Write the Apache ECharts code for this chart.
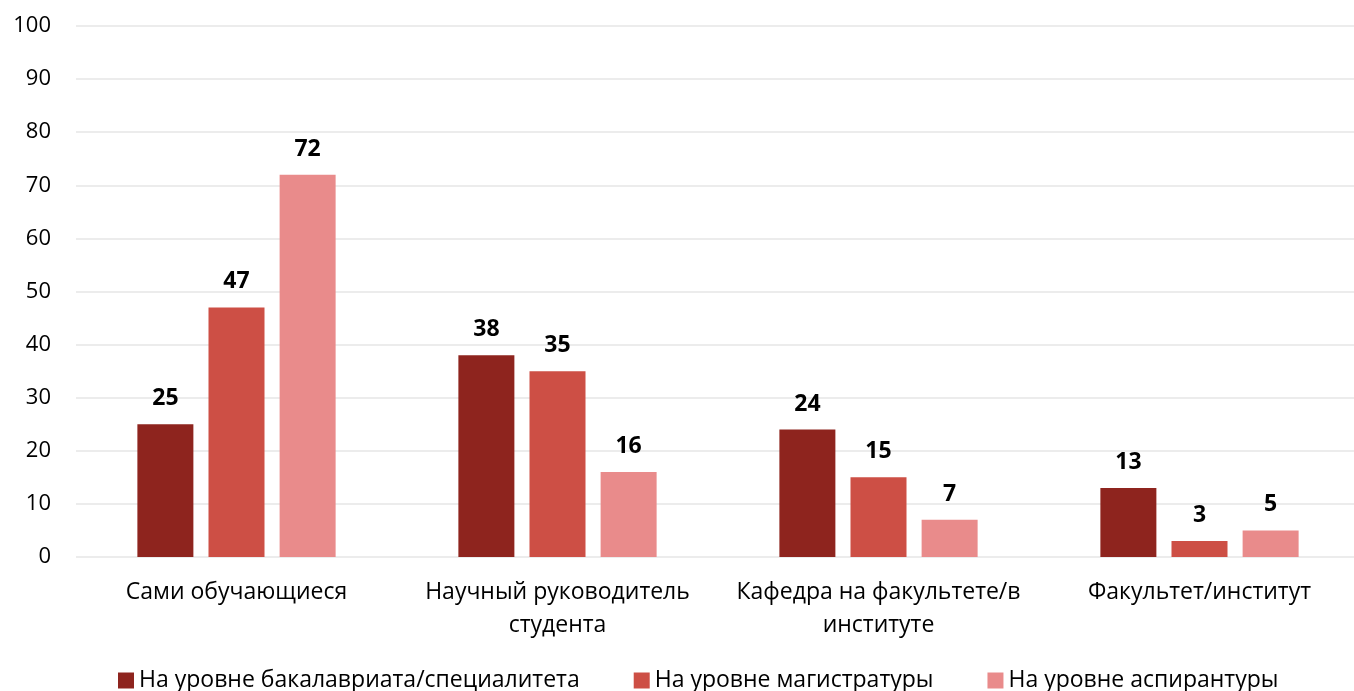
<!DOCTYPE html>
<html>
<head>
<meta charset="utf-8">
<script src="https://cdn.jsdelivr.net/npm/echarts@6/dist/echarts.min.js"></script>
<style>
  html, body { margin: 0; padding: 0; background: #fff; }
  #chart { width: 1354px; height: 691px; }
</style>
</head>
<body>
<div id="chart"></div>
<script>
// данные
var categories = ['Сами обучающиеся', 'Научный руководитель\nстудента', 'Кафедра на факультете/в\nинституте', 'Факультет/институт'];
var seriesNames = ['На уровне бакалавриата/специалитета', 'На уровне магистратуры', 'На уровне аспирантуры'];
var bachelor = [25, 38, 24, 13];
var master = [47, 35, 15, 3];
var postgrad = [72, 16, 7, 5];
var colors = ['#8E241E', '#CD4F45', '#E98B8B'];

var font = '"Open Sans", "Liberation Sans", sans-serif';

function makeSeries(name, data, color) {
  return {
    name: name,
    type: 'bar',
    data: data,
    barWidth: 56,
    barGap: '27%',
    itemStyle: { color: color },
    label: {
      show: true,
      position: 'top',
      distance: 14,
      fontFamily: font,
      fontSize: 23,
      fontWeight: 'bold',
      color: '#000'
    }
  }
}

var chart = echarts.init(document.getElementById('chart'))
chart.setOption({
  animation: false,
  textStyle: { fontFamily: font },
  grid: { left: 76, width: 1284, top: 26, height: 531, containLabel: false, outerBoundsMode: 'none' },
  legend: {
    bottom: -6,
    left: 113,
    itemWidth: 16,
    itemHeight: 16,
    itemGap: 54,
    icon: 'rect',
    textStyle: { fontSize: 23, color: '#000', fontFamily: font }
  },
  xAxis: {
    type: 'category',
    data: categories,
    axisLine: { show: false },
    axisTick: { show: false },
    axisLabel: { interval: 0, fontSize: 23, color: '#000', margin: 19, lineHeight: 33, fontFamily: font }
  },
  yAxis: {
    type: 'value',
    min: 0,
    max: 100,
    interval: 10,
    axisLabel: { fontSize: 22, color: '#000', margin: 25, fontFamily: font },
    splitLine: { lineStyle: { color: '#e6e6e6', width: 1.5 } }
  },
  series: [
    makeSeries(seriesNames[0], bachelor, colors[0]),
    makeSeries(seriesNames[1], master, colors[1]),
    makeSeries(seriesNames[2], postgrad, colors[2])
  ]
})
</script>
</body>
</html>
